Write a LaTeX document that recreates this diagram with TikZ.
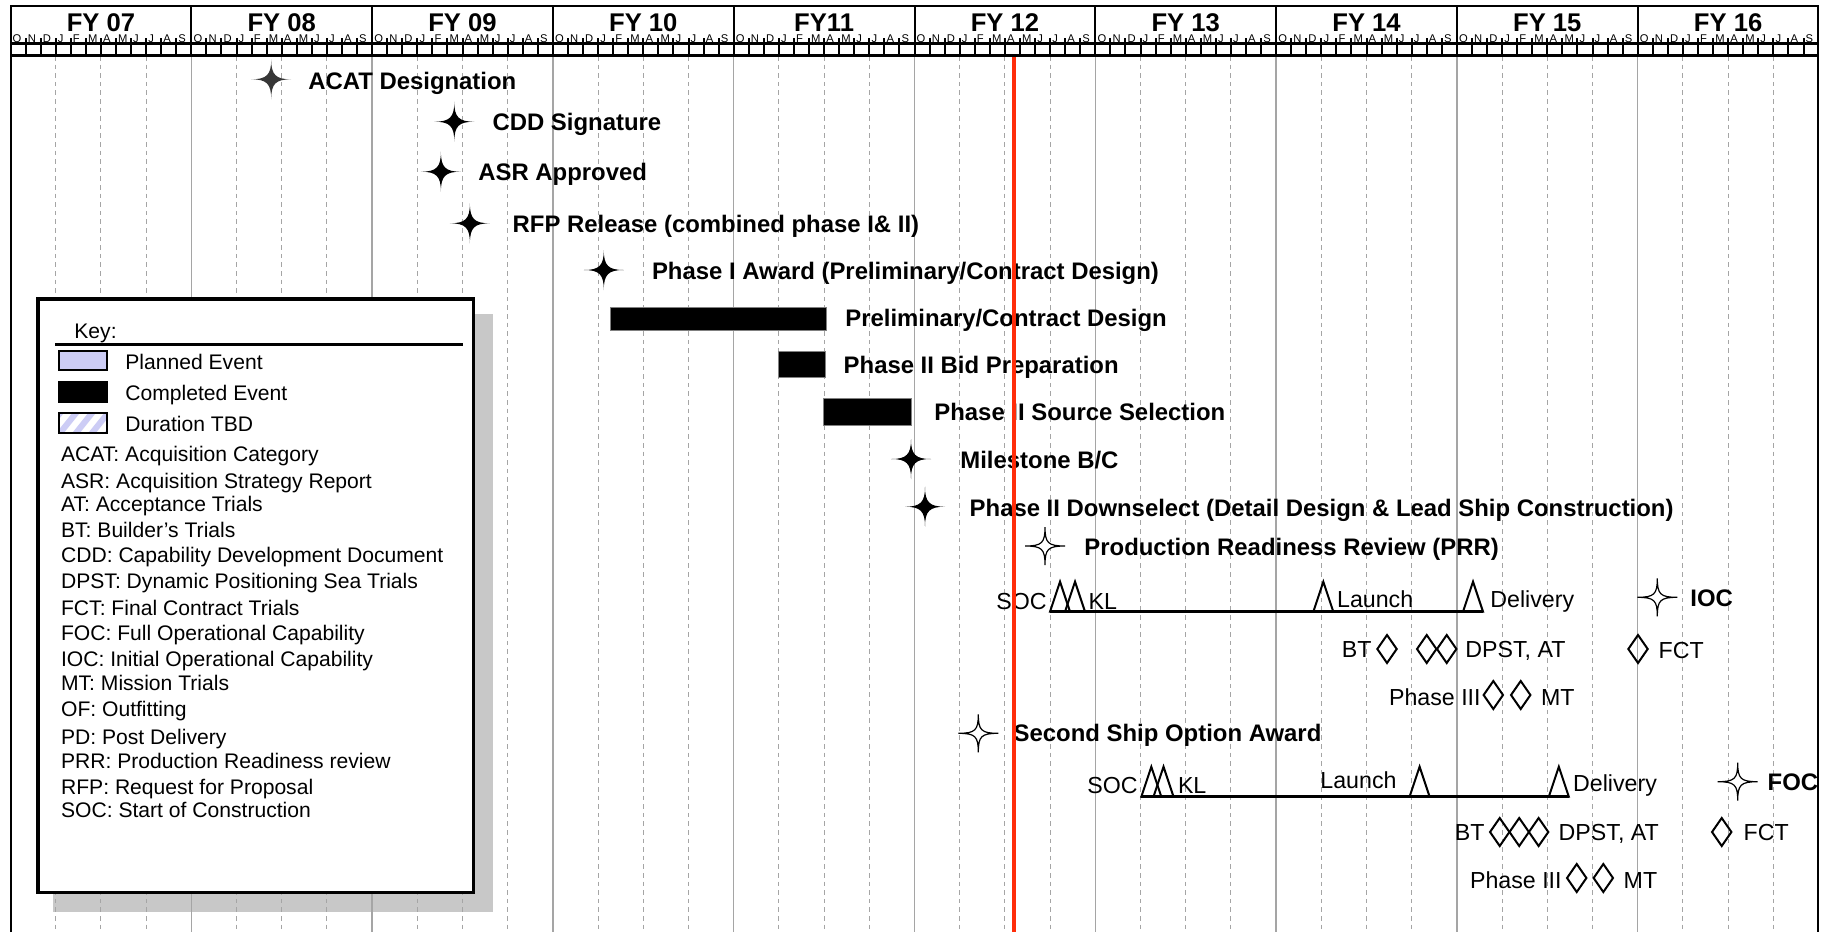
\documentclass[tikz,border=0pt]{standalone}
\usepackage{fontspec}
\setmainfont{Liberation Sans}
\definecolor{gridgray}{RGB}{165,165,165}
\definecolor{todayred}{RGB}{255,45,10}
\definecolor{plannedblue}{RGB}{204,204,245}
\definecolor{shadowgray}{RGB}{200,200,200}
\definecolor{acatgray}{RGB}{55,55,55}
\tikzset{
  solidstar/.pic={\fill (0,-20) .. controls (0,-4.5) and (4.5,0) .. (20,0) .. controls (4.5,0) and (0,4.5) .. (0,20) .. controls (0,4.5) and (-4.5,0) .. (-20,0) .. controls (-4.5,0) and (0,-4.5) .. (0,-20) -- cycle;},
  openstar/.pic={\filldraw[fill=white,draw=black,line width=0.6pt] (0,-19) .. controls (0,-3) and (3,0) .. (20,0) .. controls (3,0) and (0,3) .. (0,19) .. controls (0,3) and (-3,0) .. (-20,0) .. controls (-3,0) and (0,-3) .. (0,-19) -- cycle;},
  tripeak/.pic={\draw[line width=1pt,line join=miter] (-10,0) -- (0,30) -- (10,0) -- cycle;},
  diamark/.pic={\draw[line width=1pt,line join=miter] (0,-14) -- (9.7,0) -- (0,14) -- (-9.7,0) -- cycle;}
}
\begin{document}
\begin{tikzpicture}[x=0.5pt,y=0.5pt,yscale=-1,
  lbl/.style={anchor=base west,inner sep=0pt,font=\fontsize{11.6}{14}\selectfont},
  lble/.style={lbl,anchor=base east},
  boldlbl/.style={lbl,font=\fontsize{11.95}{14}\selectfont\bfseries},
  keytext/.style={anchor=base west,inner sep=0pt,font=\fontsize{10.55}{12}\selectfont},
  fylabel/.style={anchor=base,inner sep=0pt,font=\fontsize{12.8}{14}\selectfont\bfseries},
  monthlbl/.style={anchor=base west,inner sep=0pt,font=\fontsize{5.6}{6}\selectfont},
  dashgrid/.style={gridgray,line width=0.5pt,dash pattern=on 2.3pt off 2pt},
  yeargrid/.style={gridgray,line width=0.75pt},
  shipline/.style={line width=1.25pt},
  taskbar/.style={fill=black,draw=gray,line width=0.4pt}]
\useasboundingbox (0,0) rectangle (1829,932);

%Shape: Key shadow
\fill[shadowgray] (53,314) rectangle (492.5,911.5);

% Grid
\foreach \k in {1,...,9} \draw[yeargrid] (10.5+180.8*\k,56) -- (10.5+180.8*\k,932);
\foreach \k in {0,...,9} \foreach \j in {1,2,3}
  \draw[dashgrid] (10.5+180.8*\k+45.2*\j,56) -- (10.5+180.8*\k+45.2*\j,932);

% Header
\draw[line width=1pt] (10.5,932) -- (10.5,6) -- (1818,6) -- (1818,932);
\foreach \k in {1,...,9} \draw[line width=1pt] (10.5+180.8*\k,6) -- (10.5+180.8*\k,56);
\draw[line width=1.1pt] (10.5,43.5) -- (1818,43.5);
\draw[line width=1.1pt] (10.5,55.5) -- (1818,55.5);
\foreach \m in {1,...,119} \draw[line width=1pt] (10.5+15.067*\m,38) -- (10.5+15.067*\m,55.5);
\foreach \t [count=\k from 0] in {FY 07,FY 08,FY 09,FY 10,FY11,FY 12,FY 13,FY 14,FY 15,FY 16}
  \node[fylabel] (fy\k) at (100.9+180.8*\k,31.7) {\t};
\foreach \k in {0,...,9}
  \foreach \l [count=\i from 0] in {O,N,D,J,F,M,A,M,J,J,A,S}
    \node[monthlbl] (mon\k-\i) at (12.3+180.8*\k+15.067*\i,42.5) {\l};

%Shape: Completed milestones
\pic[acatgray] at (271.2,79.3) {solidstar};
\pic at (454.3,121.7) {solidstar};
\pic at (440.9,171.7) {solidstar};
\pic at (469.9,223.3) {solidstar};
\pic at (603.8,270) {solidstar};
\pic at (911,459) {solidstar};
\pic at (925,506.7) {solidstar};

% Text Node
\node[boldlbl] (acat) at (307.9,89.3) {ACAT Designation};
\node[boldlbl] (cdd) at (492.2,130.7) {CDD Signature};
\node[boldlbl] (asr) at (478,180) {ASR Approved};
\node[boldlbl] (rfp) at (512.3,232.7) {RFP Release (combined phase I\& II)};
\node[boldlbl] (awardI) at (651.6,279.3) {Phase I Award (Preliminary/Contract Design)};

%Shape: Task bars
\filldraw[taskbar] (610,307.3) rectangle (826,330.7);
\filldraw[taskbar] (778.3,351.7) rectangle (825,377.7);
\filldraw[taskbar] (823.3,398.7) rectangle (911,425);

% Text Node
\node[boldlbl] (prelim) at (845,326.7) {Preliminary/Contract Design};
\node[boldlbl] (bidprep) at (843.3,373.3) {Phase II Bid Preparation};
\node[boldlbl] (srcsel) at (934,420.7) {Phase II Source Selection};
\node[boldlbl] (msbc) at (960,468.3) {Milestone B/C};
\node[boldlbl] (downsel) at (969.3,516) {Phase II Downselect (Detail Design \& Lead Ship Construction)};

%Shape: Planned milestones
\pic at (1045,546) {openstar};
\pic at (1657.3,597.3) {openstar};
\pic at (978.3,733.3) {openstar};
\pic at (1737.7,781.7) {openstar};
\node[boldlbl] (prr) at (1084,555) {Production Readiness Review (PRR)};
\node[boldlbl] (ioc) at (1690,606.7) {IOC};
\node[boldlbl] (ssoa) at (1013.3,741) {Second Ship Option Award};
\node[boldlbl] (foc) at (1767.3,790) {FOC};

%Shape: Lead ship construction
\coordinate (shipAstart) at (1050,611.7);
\coordinate (shipAend) at (1483,611.7);
\draw[shipline] (shipAstart) -- (shipAend);
\pic at (1060,611.7) {tripeak};
\pic at (1075,611.7) {tripeak};
\pic at (1323.3,611.7) {tripeak};
\pic at (1473,611.7) {tripeak};
\node[lble] (socA) at (1047,609.3) {SOC};
\node[lbl] (klA) at (1088.3,609.3) {KL};
\node[lbl] (launchA) at (1336.7,607.7) {Launch};
\node[lbl] (deliveryA) at (1490,607.5) {Delivery};

\pic at (1387,649) {diamark};
\pic at (1426.7,649) {diamark};
\pic at (1446.7,649) {diamark};
\pic at (1638,649) {diamark};
\node[lble] (btA) at (1372,657.3) {BT};
\node[lbl] (dpstA) at (1465,657.3) {DPST, AT};
\node[lbl] (fctA) at (1658.3,658) {FCT};

\pic at (1493.3,695) {diamark};
\pic at (1520.7,695) {diamark};
\node[lble] (phaseA) at (1481,705) {Phase III};
\node[lbl] (mtA) at (1540.7,705) {MT};

%Shape: Second ship construction
\coordinate (shipBstart) at (1141.3,796.7);
\coordinate (shipBend) at (1569,796.7);
\draw[shipline] (shipBstart) -- (shipBend);
\pic at (1151.3,796.7) {tripeak};
\pic at (1163.5,796.7) {tripeak};
\pic at (1419.6,796.7) {tripeak};
\pic at (1558.8,796.7) {tripeak};
\node[lble] (socB) at (1138,793.3) {SOC};
\node[lbl] (klB) at (1177.6,793.3) {KL};
\node[lbl] (launchB) at (1320,788.3) {Launch};
\node[lbl] (deliveryB) at (1572.7,791.7) {Delivery};

\pic at (1499.7,832) {diamark};
\pic at (1519.2,832) {diamark};
\pic at (1538.6,832) {diamark};
\pic at (1721.7,832) {diamark};
\node[lble] (btB) at (1485,840) {BT};
\node[lbl] (dpstB) at (1558.3,840) {DPST, AT};
\node[lbl] (fctB) at (1743.3,840) {FCT};

\pic at (1576.7,878) {diamark};
\pic at (1603.3,878) {diamark};
\node[lble] (phaseB) at (1562,888) {Phase III};
\node[lbl] (mtB) at (1623.3,888) {MT};

%Shape: Key box
\draw[line width=1.8pt,fill=white] (37.7,298.7) rectangle (473.3,892.5);
\draw[line width=1.5pt] (55,344) -- (462.7,344);
\node[keytext] (key) at (74,338.3) {Key:};
\draw[line width=1pt,fill=plannedblue] (59.3,350.7) rectangle (106.7,370);
\draw[line width=1pt,fill=black] (59.3,381.7) rectangle (106.7,401.7);
\begin{scope}
  \clip (59.3,412.7) rectangle (106.7,432.7);
  \foreach \s in {0,...,5} \draw[plannedblue,line width=3pt] (40+16*\s,438) -- (64+16*\s,408);
\end{scope}
\draw[line width=1pt] (59.3,412.7) rectangle (106.7,432.7);
\node[keytext] (planned) at (125,369.3) {Planned Event};
\node[keytext] (completed) at (125,400) {Completed Event};
\node[keytext] (tbd) at (125,431.7) {Duration TBD};
\node[keytext] (kacat) at (60.7,461.7) {ACAT: Acquisition Category};
\node[keytext] (kasr) at (60.7,488.3) {ASR: Acquisition Strategy Report};
\node[keytext] (kat) at (60.7,511.7) {AT: Acceptance Trials};
\node[keytext] (kbt) at (60.7,537.7) {BT: Builder’s Trials};
\node[keytext] (kcdd) at (60.7,562.7) {CDD: Capability Development Document};
\node[keytext] (kdpst) at (60.7,588.3) {DPST: Dynamic Positioning Sea Trials};
\node[keytext] (kfct) at (60.7,615.7) {FCT: Final Contract Trials};
\node[keytext] (kfoc) at (60.7,640) {FOC: Full Operational Capability};
\node[keytext] (kioc) at (60.7,666) {IOC: Initial Operational Capability};
\node[keytext] (kmt) at (60.7,690) {MT: Mission Trials};
\node[keytext] (kof) at (60.7,716.7) {OF: Outfitting};
\node[keytext] (kpd) at (60.7,744) {PD: Post Delivery};
\node[keytext] (kprr) at (60.7,768.3) {PRR: Production Readiness review};
\node[keytext] (krfp) at (60.7,794) {RFP: Request for Proposal};
\node[keytext] (ksoc) at (60.7,817.7) {SOC: Start of Construction};

%Straight Lines: status date
\draw[todayred,line width=1.7pt] (1014,57) -- (1014,932);

\end{tikzpicture}
\end{document}
